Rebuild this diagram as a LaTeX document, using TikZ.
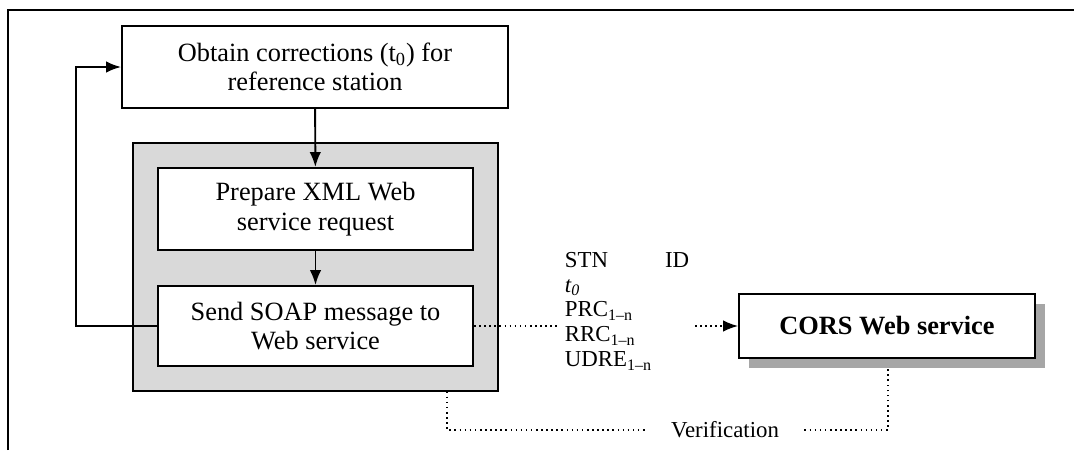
\documentclass[tikz,border=0pt]{standalone}
\usepackage{fontspec}
\setmainfont{Liberation Serif}
\usetikzlibrary{arrows.meta}
\tikzset{
  stepbox/.style={draw,fill=white,line width=1.1pt,align=center,inner sep=0pt,
    font=\fontsize{15}{16.8}\selectfont},
  datafont/.style={font=\fontsize{13}{14.2}\selectfont},
  datalink/.style={dotted,line width=0.9pt},
}
\begin{document}
\begin{tikzpicture}[>={Latex[length=8.5pt,width=6.5pt]},x=0.02cm,y=-0.02cm,line width=1.1pt]
  \useasboundingbox (0,0) rectangle (1074,450);
  \draw (8,450) -- (8,10) -- (1074,10);
  \node[draw,fill=black!15,line width=0.7pt,minimum width=7.3cm,minimum height=4.96cm] (group) at (315.5,267) {};
  \node[stepbox,minimum width=7.72cm,minimum height=1.64cm] (obtain) at (315,67) {Obtain corrections (t\textsubscript{0}) for\\reference station};
  \node[stepbox,minimum width=6.3cm,minimum height=1.64cm] (prepare) at (315.5,209) {Prepare XML Web\\service request};
  \node[stepbox,minimum width=6.3cm,minimum height=1.6cm] (send) at (315.5,326) {Send SOAP message to\\Web service};
  \node[fill=black!35,minimum width=5.92cm,minimum height=1.28cm] (corsshadow) at (897,336) {};
  \node[stepbox,minimum width=5.92cm,minimum height=1.28cm,font=\fontsize{15}{16}\selectfont\bfseries] (cors) at (887,326) {CORS Web service};
  \node[datafont,align=left,anchor=north west,inner sep=0pt] (data) at (564,251) {\makebox[57pt][l]{STN}ID\\\textit{t\textsubscript{0}}\\PRC\textsubscript{1--n}\\RRC\textsubscript{1--n}\\UDRE\textsubscript{1--n}};
  \node[datafont,inner xsep=14pt] (verif) at (725,430) {Verification};
  \coordinate (loop) at (76,0);
  \coordinate (dataend) at (560,326);
  \coordinate (datastart) at (695,326);
  \coordinate (vleft) at (447,0);
  \coordinate (vright) at (888,0);
  \draw[->] (obtain) -- (prepare);
  \draw[->] (prepare) -- (send);
  \draw[->] (send.west) -- (send.west -| loop) |- (obtain.west);
  \draw[datalink] (send.east) -- (dataend);
  \draw[datalink,->] (datastart) -- (cors.west);
  \draw[datalink] (group.south -| vleft) |- (verif.west);
  \draw[datalink] (verif.east) -| (corsshadow.south -| vright);
\end{tikzpicture}
\end{document}
